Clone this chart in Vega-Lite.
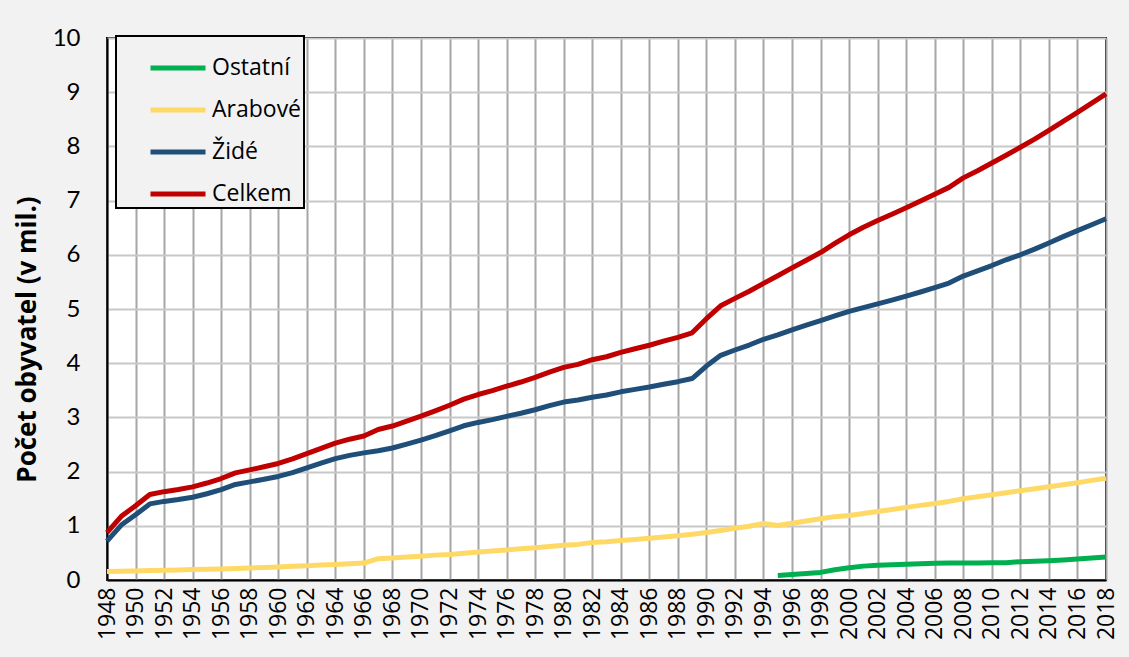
{
  "$schema": "https://vega.github.io/schema/vega-lite/v6.json",
  "autosize": {"type": "none"},
  "padding": {"left": 107, "top": 38, "right": 23, "bottom": 77},
  "width": 999,
  "height": 542,
  "background": "#F2F2F2",
  "data": {
    "values": [
      {"rok":1948,"Celkem":0.873,"Židé":0.717,"Arabové":0.156},
      {"rok":1949,"Celkem":1.174,"Židé":1.014,"Arabové":0.160},
      {"rok":1950,"Celkem":1.370,"Židé":1.203,"Arabové":0.167},
      {"rok":1951,"Celkem":1.578,"Židé":1.404,"Arabové":0.173},
      {"rok":1952,"Celkem":1.630,"Židé":1.450,"Arabové":0.179},
      {"rok":1953,"Celkem":1.669,"Židé":1.484,"Arabové":0.186},
      {"rok":1954,"Celkem":1.718,"Židé":1.526,"Arabové":0.192},
      {"rok":1955,"Celkem":1.789,"Židé":1.591,"Arabové":0.199},
      {"rok":1956,"Celkem":1.872,"Židé":1.667,"Arabové":0.205},
      {"rok":1957,"Celkem":1.976,"Židé":1.763,"Arabové":0.213},
      {"rok":1958,"Celkem":2.032,"Židé":1.810,"Arabové":0.222},
      {"rok":1959,"Celkem":2.089,"Židé":1.859,"Arabové":0.230},
      {"rok":1960,"Celkem":2.150,"Židé":1.911,"Arabové":0.239},
      {"rok":1961,"Celkem":2.234,"Židé":1.982,"Arabové":0.253},
      {"rok":1962,"Celkem":2.332,"Židé":2.069,"Arabové":0.263},
      {"rok":1963,"Celkem":2.430,"Židé":2.156,"Arabové":0.275},
      {"rok":1964,"Celkem":2.526,"Židé":2.239,"Arabové":0.286},
      {"rok":1965,"Celkem":2.598,"Židé":2.299,"Arabové":0.299},
      {"rok":1966,"Celkem":2.657,"Židé":2.345,"Arabové":0.313},
      {"rok":1967,"Celkem":2.776,"Židé":2.384,"Arabové":0.393},
      {"rok":1968,"Celkem":2.841,"Židé":2.435,"Arabové":0.406},
      {"rok":1969,"Celkem":2.930,"Židé":2.507,"Arabové":0.423},
      {"rok":1970,"Celkem":3.022,"Židé":2.582,"Arabové":0.440},
      {"rok":1971,"Celkem":3.121,"Židé":2.662,"Arabové":0.459},
      {"rok":1972,"Celkem":3.225,"Židé":2.753,"Arabové":0.472},
      {"rok":1973,"Celkem":3.338,"Židé":2.845,"Arabové":0.493},
      {"rok":1974,"Celkem":3.422,"Židé":2.907,"Arabové":0.515},
      {"rok":1975,"Celkem":3.493,"Židé":2.959,"Arabové":0.534},
      {"rok":1976,"Celkem":3.575,"Židé":3.020,"Arabové":0.555},
      {"rok":1977,"Celkem":3.653,"Židé":3.077,"Arabové":0.576},
      {"rok":1978,"Celkem":3.738,"Židé":3.141,"Arabové":0.596},
      {"rok":1979,"Celkem":3.836,"Židé":3.218,"Arabové":0.618},
      {"rok":1980,"Celkem":3.922,"Židé":3.283,"Arabové":0.639},
      {"rok":1981,"Celkem":3.978,"Židé":3.320,"Arabové":0.657},
      {"rok":1982,"Celkem":4.064,"Židé":3.373,"Arabové":0.690},
      {"rok":1983,"Celkem":4.119,"Židé":3.413,"Arabové":0.706},
      {"rok":1984,"Celkem":4.200,"Židé":3.472,"Arabové":0.728},
      {"rok":1985,"Celkem":4.266,"Židé":3.517,"Arabové":0.749},
      {"rok":1986,"Celkem":4.331,"Židé":3.561,"Arabové":0.770},
      {"rok":1987,"Celkem":4.407,"Židé":3.613,"Arabové":0.794},
      {"rok":1988,"Celkem":4.477,"Židé":3.659,"Arabové":0.818},
      {"rok":1989,"Celkem":4.560,"Židé":3.717,"Arabové":0.843},
      {"rok":1990,"Celkem":4.822,"Židé":3.947,"Arabové":0.875},
      {"rok":1991,"Celkem":5.059,"Židé":4.145,"Arabové":0.914},
      {"rok":1992,"Celkem":5.196,"Židé":4.243,"Arabové":0.953},
      {"rok":1993,"Celkem":5.328,"Židé":4.335,"Arabové":0.992},
      {"rok":1994,"Celkem":5.472,"Židé":4.441,"Arabové":1.045},
      {"rok":1995,"Celkem":5.612,"Židé":4.522,"Arabové":1.005,"Ostatní":0.085},
      {"rok":1996,"Celkem":5.758,"Židé":4.616,"Arabové":1.048,"Ostatní":0.100},
      {"rok":1997,"Celkem":5.900,"Židé":4.702,"Arabové":1.090,"Ostatní":0.118},
      {"rok":1998,"Celkem":6.041,"Židé":4.785,"Arabové":1.130,"Ostatní":0.140},
      {"rok":1999,"Celkem":6.209,"Židé":4.873,"Arabové":1.169,"Ostatní":0.190},
      {"rok":2000,"Celkem":6.369,"Židé":4.955,"Arabové":1.189,"Ostatní":0.225},
      {"rok":2001,"Celkem":6.509,"Židé":5.025,"Arabové":1.228,"Ostatní":0.256},
      {"rok":2002,"Celkem":6.631,"Židé":5.094,"Arabové":1.264,"Ostatní":0.273},
      {"rok":2003,"Celkem":6.748,"Židé":5.165,"Arabové":1.302,"Ostatní":0.281},
      {"rok":2004,"Celkem":6.870,"Židé":5.238,"Arabové":1.340,"Ostatní":0.292},
      {"rok":2005,"Celkem":6.991,"Židé":5.314,"Arabové":1.377,"Ostatní":0.300},
      {"rok":2006,"Celkem":7.117,"Židé":5.393,"Arabové":1.413,"Ostatní":0.310},
      {"rok":2007,"Celkem":7.244,"Židé":5.478,"Arabové":1.450,"Ostatní":0.315},
      {"rok":2008,"Celkem":7.419,"Židé":5.608,"Arabové":1.499,"Ostatní":0.312},
      {"rok":2009,"Celkem":7.552,"Židé":5.704,"Arabové":1.536,"Ostatní":0.313},
      {"rok":2010,"Celkem":7.695,"Židé":5.802,"Arabové":1.574,"Ostatní":0.319},
      {"rok":2011,"Celkem":7.837,"Židé":5.908,"Arabové":1.610,"Ostatní":0.319},
      {"rok":2012,"Celkem":7.985,"Židé":6.000,"Arabové":1.647,"Ostatní":0.338},
      {"rok":2013,"Celkem":8.135,"Židé":6.105,"Arabové":1.683,"Ostatní":0.347},
      {"rok":2014,"Celkem":8.297,"Židé":6.219,"Arabové":1.720,"Ostatní":0.357},
      {"rok":2015,"Celkem":8.463,"Židé":6.335,"Arabové":1.758,"Ostatní":0.371},
      {"rok":2016,"Celkem":8.629,"Židé":6.446,"Arabové":1.796,"Ostatní":0.386},
      {"rok":2017,"Celkem":8.798,"Židé":6.555,"Arabové":1.838,"Ostatní":0.406},
      {"rok":2018,"Celkem":8.968,"Židé":6.664,"Arabové":1.878,"Ostatní":0.425}
    ]
  },
  "transform": [
    {"fold": ["Ostatní", "Arabové", "Židé", "Celkem"], "as": ["skupina", "pocet"]},
    {"filter": "isValid(datum.pocet)"}
  ],
  "mark": {"type": "line", "strokeWidth": 5, "strokeCap": "butt", "strokeJoin": "round"},
  "encoding": {
    "x": {
      "field": "rok", "type": "quantitative",
      "scale": {"domain": [1948, 2018], "nice": false, "zero": false},
      "axis": {
        "title": null,
        "values": [1948,1950,1952,1954,1956,1958,1960,1962,1964,1966,1968,1970,1972,1974,1976,1978,1980,1982,1984,1986,1988,1990,1992,1994,1996,1998,2000,2002,2004,2006,2008,2010,2012,2014,2016,2018],
        "format": "d",
        "labelAngle": -90,
        "labelAlign": "right",
        "labelBaseline": "middle",
        "labelFont": "Open Sans",
        "labelFontSize": 23,
        "labelColor": "#000000",
        "labelPadding": 7,
        "labelOverlap": false,
        "labelFlush": false,
        "ticks": false,
        "domain": true,
        "domainColor": "#000000",
        "domainWidth": 2,
        "grid": true,
        "gridColor": "#A6A6A6",
        "gridWidth": 2
      }
    },
    "y": {
      "field": "pocet", "type": "quantitative",
      "scale": {"domain": [0, 10], "nice": false},
      "axis": {
        "title": "Počet obyvatel (v mil.)",
        "titleFont": "Open Sans",
        "titleFontSize": 26,
        "titleFontWeight": "bold",
        "titleColor": "#000000",
        "titlePadding": 12,
        "titleY": 301,
        "values": [0,1,2,3,4,5,6,7,8,9,10],
        "labelFont": "Lato",
        "labelFontSize": 24,
        "labelColor": "#000000",
        "labelPadding": 27,
        "ticks": false,
        "domain": true,
        "domainColor": "#000000",
        "domainWidth": 2,
        "grid": true,
        "gridColor": "#C8C8C8",
        "gridWidth": 2
      }
    },
    "color": {
      "field": "skupina", "type": "nominal",
      "scale": {
        "domain": ["Ostatní", "Arabové", "Židé", "Celkem"],
        "range": ["#00B050", "#FFD966", "#1F4E79", "#C00000"]
      },
      "legend": {
        "title": null,
        "orient": "none",
        "legendX": 9,
        "legendY": -2,
        "direction": "vertical",
        "symbolType": "stroke",
        "symbolSize": 3025,
        "symbolStrokeWidth": 5,
        "symbolOffset": 30,
        "labelFont": "Open Sans",
        "labelFontSize": 23,
        "labelColor": "#000000",
        "labelOffset": 4,
        "rowPadding": -13,
        "padding": 2,
        "fillColor": "#F2F2F2",
        "strokeColor": "#000000",
        "cornerRadius": 0
      }
    },
    "order": {"field": "skupina", "type": "nominal"}
  },
  "config": {
    "view": {"stroke": "#000000", "strokeWidth": 2, "fill": "#FFFFFF"},
    "legend": {"strokeWidth": 2}
  }
}
